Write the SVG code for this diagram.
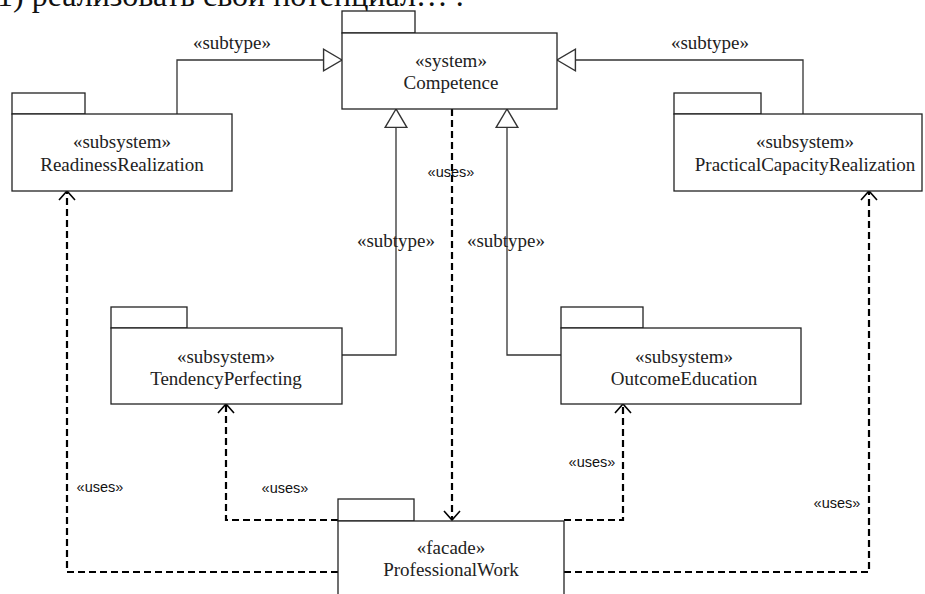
<svg xmlns="http://www.w3.org/2000/svg" width="925" height="594" viewBox="0 0 925 594">
<style>
.box{fill:#fff;stroke:#222;stroke-width:1.3}
.t{font-family:"Liberation Serif","Times New Roman",serif;font-size:19px;fill:#222;text-anchor:middle}
.u{font-family:"Liberation Sans",Arial,sans-serif;font-size:14.5px;fill:#111;text-anchor:middle}
.gen{fill:none;stroke:#333;stroke-width:1.3}
.dep{fill:none;stroke:#000;stroke-width:2.2;stroke-dasharray:7 4}
</style>
<defs>
<marker id="tri" markerUnits="userSpaceOnUse" markerWidth="24" markerHeight="26" viewBox="-19 -12 21 24" refX="0" refY="0" orient="auto">
<path d="M0,0 L-17,-10 L-17,10 Z" fill="#fff" stroke="#333" stroke-width="1.3"/>
</marker>
<marker id="open" markerUnits="userSpaceOnUse" markerWidth="22" markerHeight="22" viewBox="-12 -11 14 22" refX="0" refY="0" orient="auto">
<path d="M-9,-8 L0,0 L-9,8" fill="none" stroke="#000" stroke-width="1.6"/>
</marker>
</defs>
<rect width="925" height="594" fill="#fff"/>
<text x="-3" y="6" font-family="Liberation Serif,'Times New Roman',serif" font-size="32" fill="#111">1) реализовать свой потенциал… .</text>

<g id="connectors">
<path class="gen" d="M177,114 V60 H342" marker-end="url(#tri)"/>
<path class="gen" d="M803,114 V60 H557" marker-end="url(#tri)"/>
<path class="gen" d="M342,355 H396 V109" marker-end="url(#tri)"/>
<path class="gen" d="M561,355 H507 V109" marker-end="url(#tri)"/>
<path class="dep" d="M452,109 V520" marker-end="url(#open)"/>
<path class="dep" d="M338,520 H226 V404" marker-end="url(#open)"/>
<path class="dep" d="M338,572 H67 V191" marker-end="url(#open)"/>
<path class="dep" d="M564,520 H623 V404" marker-end="url(#open)"/>
<path class="dep" d="M564,572 H869 V191" marker-end="url(#open)"/>
<text class="t" x="232" y="49">«subtype»</text>
<text class="t" x="710" y="49">«subtype»</text>
<text class="t" x="396" y="247">«subtype»</text>
<text class="t" x="506" y="247">«subtype»</text>
<text class="u" x="451" y="177">«uses»</text>
<text class="u" x="100" y="492">«uses»</text>
<text class="u" x="285" y="493">«uses»</text>
<text class="u" x="592" y="467">«uses»</text>
<text class="u" x="837" y="508">«uses»</text>
</g>

<g id="competence">
<rect class="box" x="342" y="11" width="73" height="22"/>
<rect class="box" x="342" y="33" width="215" height="76"/>
<text class="t" x="451" y="67">«system»</text>
<text class="t" x="451" y="89">Competence</text>
</g>

<g id="readiness">
<rect class="box" x="12" y="93" width="73" height="21"/>
<rect class="box" x="12" y="114" width="220" height="77"/>
<text class="t" x="122" y="148">«subsystem»</text>
<text class="t" x="122" y="171">ReadinessRealization</text>
</g>

<g id="practical">
<rect class="box" x="674" y="93" width="87" height="21"/>
<rect class="box" x="674" y="114" width="248" height="77"/>
<text class="t" x="805" y="148">«subsystem»</text>
<text class="t" x="805" y="171">PracticalCapacityRealization</text>
</g>

<g id="tendency">
<rect class="box" x="111" y="307" width="76" height="21"/>
<rect class="box" x="111" y="328" width="231" height="76"/>
<text class="t" x="226" y="363">«subsystem»</text>
<text class="t" x="226" y="385">TendencyPerfecting</text>
</g>

<g id="outcome">
<rect class="box" x="561" y="307" width="82" height="21"/>
<rect class="box" x="561" y="328" width="240" height="76"/>
<text class="t" x="684" y="363">«subsystem»</text>
<text class="t" x="684" y="385">OutcomeEducation</text>
</g>

<g id="professional">
<rect class="box" x="338" y="499" width="76" height="22"/>
<rect class="box" x="338" y="521" width="226" height="80"/>
<text class="t" x="451" y="554">«facade»</text>
<text class="t" x="451" y="576">ProfessionalWork</text>
</g>
</svg>
